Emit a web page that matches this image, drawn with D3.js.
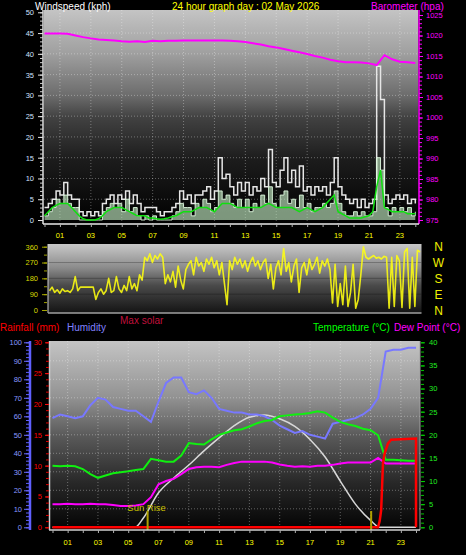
<!DOCTYPE html>
<html><head><meta charset="utf-8">
<script src="https://cdn.jsdelivr.net/npm/d3@7"></script>
<style>body{margin:0;background:#000;} svg{display:block;}</style>
</head><body>
<script>
// ---------------- DATA ----------------
const titleText = "24 hour graph day : 02 May 2026";
const hourLabels = ["01","03","05","07","09","11","13","15","17","19","21","23"];
const labelHours = [1,3,5,7,9,11,13,15,17,19,21,23];

// wind (kph), every 15 minutes from 00:00 to 24:00
const gust = [
 3,4,5,7, 6,9,6,5, 5,2,1,2, 1,2,1,4, 5,6,4,6, 5,7,4,6,
 4,2,3,3, 3,2,1,2, 2,3,4,7, 5,6,4,6, 6,7,8,5, 7,15,10,11,
 8,6,9,7, 9,6,8,7, 10,8,17,9, 8,12,15,9, 12,8,13,7, 8,6,8,7,
 8,6,9,15, 8,6,5,4, 5,3,5,3, 4,5,37,29, 6,4,5,6, 5,6,4,5, 4];
const speed = [
 1,2,3,5, 4,6,4,3, 3,0,0,0, 0,0,0,2, 3,4,3,4, 2,5,2,3,
 1,0,1,0, 1,0,0,0, 0,1,2,4, 3,3,1,4, 3,5,4,2, 3,7,5,6,
 4,3,5,3, 5,2,4,3, 6,4,8,4, 3,6,7,4, 5,3,6,3, 4,2,3,3,
 4,3,4,7, 4,2,1,1, 2,1,2,1, 1,2,15,12, 3,1,3,2, 3,2,3,1, 2];
const windAvg = [
 1,2,3,3.5, 4,4,4,3, 2,1,0.3,0, 0,0,0.3,1, 2,2.5,3,3, 3,2.5,2,1.5,
 1,1,1,0.5, 0.5,0.3,0.2,0.3, 0.5,0.8,1,1.5, 2,2,2,2.5, 3,3,3,2.5, 2,3,4,4,
 4,3.5,3,3, 3,3,3,3, 3,3.5,4,3.5, 3,3,3,3, 3,2.5,2,2.5, 3,2.5,2,2.5,
 3,4,5,6, 2,1.5,1,0.5, 0.5,0.5,0.5,0.8, 1,2,8,12, 3,2.5,2,2, 2,2,1.5,1.5, 1.5];

// barometer (hPa), every 30 minutes
const baro = [
 1020.5,1020.5,1020.5,1020.4,1020.0,1019.6,1019.3,1019.0,1018.9,1018.8,
 1018.6,1018.5,1018.6,1018.4,1018.7,1018.6,1018.7,1018.7,1018.8,1018.8,
 1018.8,1018.8,1018.8,1018.8,1018.7,1018.6,1018.4,1018.1,1017.8,1017.4,
 1017.1,1016.7,1016.3,1015.9,1015.5,1015.0,1014.6,1014.1,1013.7,1013.5,
 1013.5,1013.4,1013.2,1012.8,1015.2,1014.2,1013.6,1013.5,1013.3];

// wind direction (degrees), every 10 minutes
const windDir = [
 110,130,100,115,95,120,105,
 110,100,120,190,110,130,
 130,130,130,130,130,60,
 100,120,90,110,180,100,
 110,190,120,100,140,110,
 190,120,150,110,200,170,
 300,280,320,270,310,290,
 320,300,150,200,160,220,
 130,250,170,120,230,260,
 280,200,300,250,270,220,
 290,260,300,240,280,200,
 270,150,30,280,230,300,
 260,290,240,280,220,270,
 300,250,280,230,270,290,
 180,260,120,240,280,200,
 350,220,270,160,250,290,
 100,240,270,200,290,230,
 260,300,210,280,250,290,
 230,40,260,20,150,30,
 250,20,100,260,10,60,
 200,360,300,290,300,310,
 295,300,290,305,300,10,
 300,20,310,280,15,330,
 350,10,300,20,340,330];
const compass = ["N","W","S","E","N"];
const compassDeg = [360,270,180,90,0];

// every 30 minutes
const humidity = [59,61,60,59,60,66,70,69,65,64,63,63,60,57,68,78,81,81,73,72,74,70,64,63,
 62,62,61,61,60,58,55,53,51,52,50,49,48,56,57,58,59,61,64,70,95,96,96,97,97];
const temperature = [13.3,13.2,13.3,13.2,12.6,11.5,10.7,11.2,11.7,11.9,12.1,12.4,12.6,14.8,14.5,14.2,
 14.2,15.5,18.2,18.0,17.9,19.0,20.0,20.5,21.0,21.2,21.8,22.5,23.0,23.2,24.0,24.2,24.4,24.5,24.7,
 25.1,24.8,23.7,22.8,22.3,21.9,21.3,21.0,19.9,14.6,14.6,14.5,14.4,14.4];
const dewPoint = [5.0,5.0,5.1,5.0,5.0,5.1,5.0,5.0,4.8,4.6,4.6,4.7,5.0,6.5,9.3,10.0,10.5,11.5,12.6,
 13.0,13.1,13.1,13.0,13.5,13.9,14.2,14.2,14.2,14.2,14.0,13.6,13.3,13.1,13.2,13.1,13.3,13.3,13.5,
 13.8,14.0,14.0,14.0,14.0,15.0,13.8,13.8,13.8,13.8,13.8];

const solarHours = [0,5.45,6,7,8,9,10,11,12,13,14,15,16,17,18,19,20,21,21.6,24];
const solar = [0,0,75,280,400,505,620,725,825,893,911,880,818,712,570,375,188,56,0,0];

const rainHours = [0,21.49,21.6,21.7,21.82,21.93,22.15,22.36,24.0,24.0];
const rain = [0,0,1,2.8,10.4,12,13.6,14.2,14.4,0];

const sunRise = 6.28, sunSet = 21.04;

// ---------------- DRAW ----------------
const W = 466, H = 555;
const FONT = "'Liberation Sans', Arial, sans-serif";
const svg = d3.select("body").append("svg").attr("width", W).attr("height", H)
  .style("background", "#000").style("font-family", FONT);
const defs = svg.append("defs");
function grad(id, stops) {
  const g = defs.append("linearGradient").attr("id", id)
    .attr("x1", 0).attr("y1", 0).attr("x2", 0).attr("y2", 1);
  stops.forEach(([o, c]) => g.append("stop").attr("offset", o).attr("stop-color", c));
}
grad("gTop", [[0, "#c4c4c4"], [0.2, "#a0a0a0"], [0.4, "#6c6c6c"], [0.5, "#424242"], [0.7, "#1c1c1c"], [1, "#000"]]);
grad("gDir", [[0, "#c8c8c8"], [0.35, "#8a8a8a"], [0.6, "#4a4a4a"], [1, "#141414"]]);
grad("gBot", [[0, "#c4c4c4"], [0.3, "#929292"], [0.5, "#5a5a5a"], [0.75, "#282828"], [1, "#030303"]]);

function clip(id, x, y, w, h) {
  defs.append("clipPath").attr("id", id).append("rect").attr("x", x).attr("y", y).attr("width", w).attr("height", h);
}
const GRID = "rgba(255,255,255,0.33)";
const intFmt = d3.format("d");
function txt(x, y, s, color, size, anchor) {
  return svg.append("text").attr("x", x).attr("y", y).text(s).attr("fill", color)
    .attr("font-size", size).attr("text-anchor", anchor || "start");
}
function styleAxis(g, color, fontSize, textColor) {
  g.select(".domain").remove();
  g.selectAll(".tick line").attr("stroke", color);
  g.selectAll(".tick text").attr("fill", textColor || color).attr("font-size", fontSize).attr("font-family", FONT);
}
const q = d3.range(gust.length).map(i => i / 4);
const half = d3.range(baro.length).map(i => i / 2);
const tenMin = d3.range(windDir.length).map(i => i / 6);

// ===== TOP CHART =====
const T = {l: 44, r: 418, t: 10, b: 224};
const xT = d3.scaleLinear().domain([0, 24]).range([44.5, 415.3]);
const yW = d3.scaleLinear().domain([0, 50]).range([220, 12.3]);
const yB = d3.scaleLinear().domain([975, 1025]).range([220, 15]);
svg.append("rect").attr("x", T.l).attr("y", T.t).attr("width", T.r - T.l).attr("height", T.b - T.t).attr("fill", "url(#gTop)");
clip("cTop", T.l, T.t, T.r - T.l, T.b - T.t);
const gT = svg.append("g").attr("clip-path", "url(#cTop)");
d3.range(5, 50, 5).forEach(v => gT.append("line").attr("x1", T.l).attr("x2", T.r).attr("y1", yW(v)).attr("y2", yW(v))
  .attr("stroke", GRID).attr("stroke-dasharray", "1,2"));
labelHours.forEach(h => gT.append("line").attr("x1", xT(h)).attr("x2", xT(h)).attr("y1", T.t).attr("y2", T.b)
  .attr("stroke", GRID).attr("stroke-dasharray", "1,2"));

gT.append("path").datum(gust).attr("fill", "none").attr("stroke", "#e6e6e6").attr("stroke-width", 1.5)
  .attr("d", d3.line().x((d, i) => xT(q[i])).y(d => yW(d)).curve(d3.curveStepAfter));
gT.append("path").datum(speed).attr("fill", "#c8f2c8").attr("fill-opacity", 0.62)
  .attr("d", d3.area().x((d, i) => xT(q[i])).y0(yW(0)).y1(d => yW(d)).curve(d3.curveStepAfter));
gT.append("path").datum(speed).attr("fill", "none").attr("stroke", "#e0fbe0").attr("stroke-width", 1).attr("stroke-opacity", 0.9)
  .attr("d", d3.line().x((d, i) => xT(q[i])).y(d => yW(d)).curve(d3.curveStepAfter));
gT.append("path").datum(windAvg).attr("fill", "none").attr("stroke", "#10e010").attr("stroke-width", 1.5)
  .attr("d", d3.line().x((d, i) => xT(q[i])).y(d => yW(d)));
gT.append("path").datum(baro).attr("fill", "none").attr("stroke", "#ff00ff").attr("stroke-width", 2)
  .attr("d", d3.line().x((d, i) => xT(half[i])).y(d => yB(d)));

// left wind axis
svg.append("line").attr("x1", 43).attr("x2", 43).attr("y1", T.t).attr("y2", T.b).attr("stroke", "#e0e0e0").attr("stroke-width", 1.5);
const aWmin = svg.append("g").attr("transform", "translate(43,0)")
  .call(d3.axisLeft(yW).tickValues(d3.range(0, 51, 1)).tickSize(3).tickFormat(""));
styleAxis(aWmin, "#d0d0d0", 7);
const aW = svg.append("g").attr("transform", "translate(43,0)")
  .call(d3.axisLeft(yW).tickValues(d3.range(0, 51, 5)).tickSize(5).tickPadding(4).tickFormat(intFmt));
styleAxis(aW, "#e0e0e0", "7.5px", "#d0e0ff");
// right baro axis
svg.append("line").attr("x1", 419).attr("x2", 419).attr("y1", T.t).attr("y2", T.b).attr("stroke", "#ff00ff").attr("stroke-width", 1.5);
const aBmin = svg.append("g").attr("transform", "translate(419,0)")
  .call(d3.axisRight(yB).tickValues(d3.range(975, 1026, 1)).tickSize(3).tickFormat(""));
styleAxis(aBmin, "#ff00ff", 7);
const aB = svg.append("g").attr("transform", "translate(419,0)")
  .call(d3.axisRight(yB).tickValues(d3.range(975, 1026, 5)).tickSize(4).tickPadding(3).tickFormat(intFmt));
styleAxis(aB, "#ff00ff", "7.5px");
// x axis
svg.append("line").attr("x1", 43).attr("x2", 419).attr("y1", T.b).attr("y2", T.b).attr("stroke", "#e8e8e8").attr("stroke-width", 1.5);
const aXT = svg.append("g").attr("transform", `translate(0,${T.b})`)
  .call(d3.axisBottom(xT).tickValues(d3.range(0, 25, 1)).tickSize(3).tickFormat(""));
styleAxis(aXT, "#b0b0b0", 7);
labelHours.forEach((h, i) => txt(xT(h), 238, hourLabels[i], "#ffff00", "7.5px", "middle"));

txt(35, 9.5, "Windspeed (kph)", "#ffffff", "10px");
txt(172, 9.5, titleText, "#ffff00", "10px");
txt(371, 9.5, "Barometer (hpa)", "#ff00ff", "10px");

// ===== WIND DIRECTION CHART =====
const D = {l: 48, r: 421.5, t: 244, b: 313};
const xD = d3.scaleLinear().domain([0, 24]).range([49.5, 420]);
const yD = d3.scaleLinear().domain([0, 360]).range([310, 246.7]);
svg.append("rect").attr("x", D.l).attr("y", D.t).attr("width", D.r - D.l).attr("height", D.b - D.t).attr("fill", "url(#gDir)");
clip("cDir", D.l, D.t, D.r - D.l, D.b - D.t);
const gD = svg.append("g").attr("clip-path", "url(#cDir)");
[90, 180, 270].forEach(v => gD.append("line").attr("x1", D.l).attr("x2", D.r).attr("y1", yD(v)).attr("y2", yD(v))
  .attr("stroke", "rgba(0,0,0,0.25)"));
gD.append("path").datum(windDir).attr("fill", "none").attr("stroke", "#ffff10").attr("stroke-width", 1.6).attr("stroke-opacity", 0.88)
  .attr("stroke-linejoin", "round")
  .attr("d", d3.line().x((d, i) => xD(tenMin[i])).y(d => yD(d)));
svg.append("line").attr("x1", D.l).attr("x2", D.l).attr("y1", D.t).attr("y2", D.b).attr("stroke", "#d0d0d0");
svg.append("line").attr("x1", D.l).attr("x2", D.r).attr("y1", D.b).attr("y2", D.b).attr("stroke", "#a0a0a0").attr("stroke-width", 1.5);
const aDmin = svg.append("g").attr("transform", "translate(47,0)")
  .call(d3.axisLeft(yD).tickValues(d3.range(0, 361, 45)).tickSize(3).tickFormat(""));
styleAxis(aDmin, "#a0a000", 7);
const aD = svg.append("g").attr("transform", "translate(47,0)")
  .call(d3.axisLeft(yD).tickValues([0, 90, 180, 270, 360]).tickSize(5).tickPadding(4).tickFormat(intFmt));
styleAxis(aD, "#a8a800", "7.5px", "#d8d800");
compass.forEach((c, i) => txt(438.5, yD(compassDeg[i]) + 4.5, c, "#f0f000", "12px", "middle"));

// ===== BOTTOM CHART =====
const B = {l: 50, r: 420, t: 341, b: 530};
const xB = d3.scaleLinear().domain([0, 24]).range([52.5, 416]);
const yH = d3.scaleLinear().domain([0, 100]).range([527.3, 342.3]);
const yR = d3.scaleLinear().domain([0, 30]).range([527.3, 342.3]);
const yTmp = d3.scaleLinear().domain([0, 40]).range([527.3, 342.3]);
const yS = d3.scaleLinear().domain([0, 1500]).range([527.3, 342.3]);
svg.append("rect").attr("x", B.l).attr("y", B.t).attr("width", B.r - B.l).attr("height", B.b - B.t).attr("fill", "url(#gBot)");
clip("cBot", B.l, B.t, B.r - B.l, B.b - B.t + 2);
const gB = svg.append("g").attr("clip-path", "url(#cBot)");
d3.range(10, 100, 10).forEach(v => gB.append("line").attr("x1", B.l).attr("x2", B.r).attr("y1", yH(v)).attr("y2", yH(v))
  .attr("stroke", GRID).attr("stroke-dasharray", "1,2"));
labelHours.forEach(h => gB.append("line").attr("x1", xB(h)).attr("x2", xB(h)).attr("y1", B.t).attr("y2", B.b)
  .attr("stroke", GRID).attr("stroke-dasharray", "1,2"));

gB.append("path").datum(solar).attr("fill", "none").attr("stroke", "#d8d8d8").attr("stroke-width", 1.5)
  .attr("d", d3.line().x((d, i) => xB(solarHours[i])).y(d => yS(d)).curve(d3.curveMonotoneX));
gB.append("path").datum(humidity).attr("fill", "none").attr("stroke", "#7878ff").attr("stroke-width", 2)
  .attr("d", d3.line().x((d, i) => xB(half[i])).y(d => yH(d)));
gB.append("path").datum(temperature).attr("fill", "none").attr("stroke", "#10f010").attr("stroke-width", 2)
  .attr("d", d3.line().x((d, i) => xB(half[i])).y(d => yTmp(d)));
gB.append("path").datum(dewPoint).attr("fill", "none").attr("stroke", "#ff00ff").attr("stroke-width", 2)
  .attr("d", d3.line().x((d, i) => xB(half[i])).y(d => yTmp(d)));
gB.append("path").datum(rain).attr("fill", "none").attr("stroke", "#ff0000").attr("stroke-width", 2.5)
  .attr("d", d3.line().x((d, i) => xB(rainHours[i])).y(d => yR(d)));

// sunrise / sunset markers
[sunRise, sunSet].forEach(h => svg.append("line").attr("x1", xB(h)).attr("x2", xB(h)).attr("y1", 511).attr("y2", 530)
  .attr("stroke", "#b0a000").attr("stroke-width", 2));
txt(xB(sunRise) - 1, 511, "Sun Rise", "#c8c000", "9.5px", "middle");

// borders
svg.append("line").attr("x1", 49.5).attr("x2", 49.5).attr("y1", B.t).attr("y2", B.b).attr("stroke", "#d0d0d0").attr("stroke-width", 1.5);
svg.append("line").attr("x1", 420).attr("x2", 420).attr("y1", B.t).attr("y2", B.b).attr("stroke", "#a0a0a0");
svg.append("line").attr("x1", 49).attr("x2", 420).attr("y1", B.b).attr("y2", B.b).attr("stroke", "#d0d0d0").attr("stroke-width", 1.5);

// humidity axis (blue)
svg.append("line").attr("x1", 30).attr("x2", 30).attr("y1", B.t).attr("y2", B.b).attr("stroke", "#6060ff").attr("stroke-width", 2.5);
const aHmin = svg.append("g").attr("transform", "translate(29,0)")
  .call(d3.axisLeft(yH).tickValues(d3.range(0, 101, 2)).tickSize(3).tickFormat(""));
styleAxis(aHmin, "#6060ff", 7);
const aH = svg.append("g").attr("transform", "translate(29,0)")
  .call(d3.axisLeft(yH).tickValues(d3.range(0, 101, 10)).tickSize(5).tickPadding(2).tickFormat(intFmt));
styleAxis(aH, "#6868ff", "7.5px", "#8898ff");
// rain axis (red)
const aRmin = svg.append("g").attr("transform", "translate(49,0)")
  .call(d3.axisLeft(yR).tickValues(d3.range(0, 31, 1)).tickSize(3).tickFormat(""));
styleAxis(aRmin, "#e00000", 7);
const aR = svg.append("g").attr("transform", "translate(49,0)")
  .call(d3.axisLeft(yR).tickValues(d3.range(0, 31, 5)).tickSize(4).tickPadding(3).tickFormat(intFmt));
styleAxis(aR, "#ff1010", "7.5px", "#ff0000");
// temperature axis (green)
const aTmin = svg.append("g").attr("transform", "translate(421,0)")
  .call(d3.axisRight(yTmp).tickValues(d3.range(0, 41, 1)).tickSize(3).tickFormat(""));
styleAxis(aTmin, "#00c000", 7);
const aTm = svg.append("g").attr("transform", "translate(421,0)")
  .call(d3.axisRight(yTmp).tickValues(d3.range(0, 41, 5)).tickSize(4).tickPadding(4).tickFormat(intFmt));
styleAxis(aTm, "#00d000", "7.5px", "#20ee20");
// x axis
const aXB = svg.append("g").attr("transform", `translate(0,${B.b})`)
  .call(d3.axisBottom(xB).tickValues(d3.range(0, 25, 1)).tickSize(3).tickFormat(""));
styleAxis(aXB, "#b0b0b0", 7);
labelHours.forEach((h, i) => txt(xB(h), 544.5, hourLabels[i], "#ffff00", "7.5px", "middle"));

txt(0, 330.5, "Rainfall (mm)", "#ff0000", "10px");
txt(67, 330.5, "Humidity", "#8080ff", "10px");
txt(120, 323.5, "Max solar", "#c0103c", "10px");
txt(313, 330.5, "Temperature (°C)", "#00ff00", "10px");
txt(394, 330.5, "Dew Point (°C)", "#ff00ff", "10px");
</script>
</body></html>
